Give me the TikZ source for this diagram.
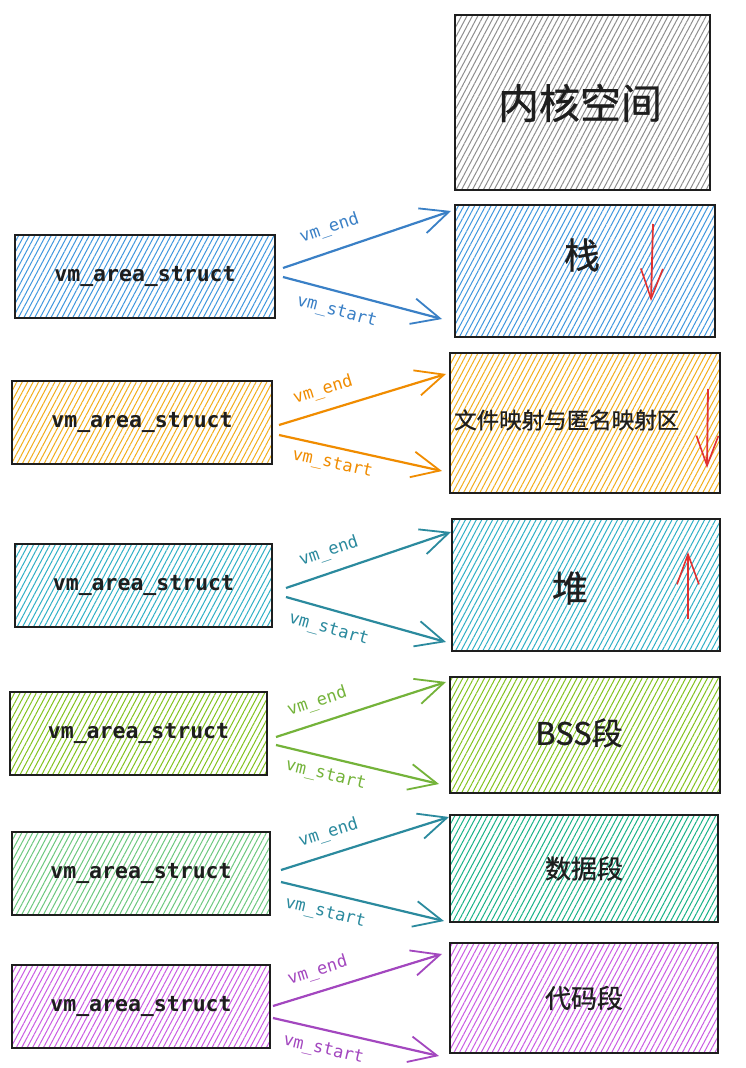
\documentclass[tikz,border=0pt]{standalone}
\usepackage{fontspec}
\setmonofont{DejaVu Sans Mono}
\newfontfamily\cjk[FakeBold=0.8]{Noto Sans CJK SC}
\usetikzlibrary{patterns.meta,arrows.meta,calc}

\definecolor{ink}{HTML}{1E1E1E}
\definecolor{blueLine}{HTML}{3A80C6}
\definecolor{blueHatch}{HTML}{3F97DE}
\definecolor{orangeLine}{HTML}{F08C00}
\definecolor{orangeHatch}{HTML}{F2AE1C}
\definecolor{tealLine}{HTML}{2B8A9E}
\definecolor{tealHatch}{HTML}{2FB0C6}
\definecolor{greenLine}{HTML}{74B33A}
\definecolor{greenHatch}{HTML}{82C31E}
\definecolor{mintHatch}{HTML}{6CC87E}
\definecolor{seaHatch}{HTML}{18B287}
\definecolor{purpleLine}{HTML}{A347BF}
\definecolor{purpleHatch}{HTML}{CB5BE4}
\definecolor{greyHatch}{HTML}{8E8E8E}
\definecolor{redArrow}{HTML}{E03131}

\begin{document}
\begin{tikzpicture}[x=1pt,y=-1pt,
  seg/.style={draw=ink, line width=2pt, inner sep=0pt,
    pattern={Lines[angle=62,distance=4.8pt,line width=1pt]}},
  vma/.style={seg, minimum height=83pt, text=ink,
    font=\ttfamily\bfseries\fontsize{21.5}{24}\selectfont},
  area/.style={seg},
  cjktext/.style={text=ink, inner sep=0pt},
  link/.style={draw=#1, line width=2.2pt,
    -{Straight Barb[length=28pt,width=26pt,line width=1.8pt]}},
  lbl/.style={sloped, text=#1, inner sep=0pt,
    font=\ttfamily\fontsize{17}{19}\selectfont},
  updown/.style={draw=redArrow, line width=1.8pt,
    -{Straight Barb[length=30pt,width=22pt,line width=1.6pt]}}
]
\useasboundingbox (0,0) rectangle (745,1068);
\fill[white] (0,0) rectangle (745,1068);

% ---- memory layout column ----
\node[area, pattern color=greyHatch, minimum width=255pt, minimum height=175pt] (kern) at (582.5,102.5) {};
\node[cjktext, font=\cjk\fontsize{41}{45}\selectfont] (tkern) at (580,103) {内核空间};

\node[area, pattern color=blueHatch, minimum width=260pt, minimum height=132pt] (k1) at (585,271) {};
\node[cjktext, font=\cjk\fontsize{36}{40}\selectfont] (t1) at ($(k1)+(-3,-16)$) {栈};

\node[area, pattern color=orangeHatch, minimum width=270pt, minimum height=140pt] (k2) at (585,423) {};
\node[cjktext, anchor=west, font=\cjk\fontsize{22.5}{26}\selectfont] (t2) at ($(k2.west)+(5,-3)$) {文件映射与匿名映射区};

\node[area, pattern color=tealHatch, minimum width=268pt, minimum height=132pt] (k3) at (586,585) {};
\node[cjktext, font=\cjk\fontsize{36}{40}\selectfont] (t3) at ($(k3)+(-16,3)$) {堆};

\node[area, pattern color=greenHatch, minimum width=270pt, minimum height=116pt] (k4) at (585,735) {};
\node[cjktext, font=\cjk\fontsize{31}{35}\selectfont] (t4) at ($(k4)+(-6,-2)$) {BSS段};

\node[area, pattern color=seaHatch, minimum width=268pt, minimum height=107pt] (k5) at (584,868.5) {};
\node[cjktext, font=\cjk\fontsize{26}{30}\selectfont] (t5) at (k5) {数据段};

\node[area, pattern color=purpleHatch, minimum width=268pt, minimum height=110pt] (k6) at (584,998) {};
\node[cjktext, font=\cjk\fontsize{26}{30}\selectfont] (t6) at (k6) {代码段};

% growth directions
\draw[updown] ($(k1.north east)+(-63,20)$) -- ($(k1.north east)+(-65,97)$);
\draw[updown] ($(k2.north east)+(-13,37)$) -- ($(k2.north east)+(-14,116)$);
\draw[updown] ($(k3.north east)+(-33,101)$) -- ($(k3.north east)+(-33,34)$);

% ---- vm_area_struct column ----
\node[vma, pattern color=blueHatch,   minimum width=260pt] (v1) at (145,276)    {vm\_area\_struct};
\node[vma, pattern color=orangeHatch, minimum width=260pt] (v2) at (142,422.5)  {vm\_area\_struct};
\node[vma, pattern color=tealHatch,   minimum width=257pt] (v3) at (143.5,585)  {vm\_area\_struct};
\node[vma, pattern color=greenHatch,  minimum width=257pt] (v4) at (138.5,733.5){vm\_area\_struct};
\node[vma, pattern color=mintHatch,   minimum width=258pt] (v5) at (141,873.5)  {vm\_area\_struct};
\node[vma, pattern color=purpleHatch, minimum width=258pt] (v6) at (141,1006.5) {vm\_area\_struct};

% ---- vm_end / vm_start links ----
\draw[link=blueLine] ($(v1.east)+(7,-8)$) -- node[lbl=blueLine, pos=.32, above=13pt] {vm\_end} ($(k1.north west)+(-3,7)$);
\draw[link=blueLine] ($(v1.east)+(7,1)$) -- node[lbl=blueLine, pos=.37, below=11pt] {vm\_start} ($(k1.south west)+(-12,-19)$);

\draw[link=orangeLine] ($(v2.east)+(6,2.5)$) -- node[lbl=orangeLine, pos=.3, above=11pt] {vm\_end} ($(k2.north west)+(-3,22)$);
\draw[link=orangeLine] ($(v2.east)+(6,12.5)$) -- node[lbl=orangeLine, pos=.35, below=8pt] {vm\_start} ($(k2.south west)+(-7,-23)$);

\draw[link=tealLine] ($(v3.east)+(13,3)$) -- node[lbl=tealLine, pos=.3, above=11pt] {vm\_end} ($(k3.north west)+(0,14)$);
\draw[link=tealLine] ($(v3.east)+(13,12)$) -- node[lbl=tealLine, pos=.3, below=11pt] {vm\_start} ($(k3.south west)+(-5,-10)$);

\draw[link=greenLine] ($(v4.east)+(8,3.5)$) -- node[lbl=greenLine, pos=.28, above=11pt] {vm\_end} ($(k4.north west)+(-3,6)$);
\draw[link=greenLine] ($(v4.east)+(8,11.5)$) -- node[lbl=greenLine, pos=.33, below=9pt] {vm\_start} ($(k4.south west)+(-10,-10)$);

\draw[link=tealLine] ($(v5.east)+(10,-3.5)$) -- node[lbl=tealLine, pos=.32, above=11pt] {vm\_end} ($(k5.north west)+(0,3)$);
\draw[link=tealLine] ($(v5.east)+(10,8.5)$) -- node[lbl=tealLine, pos=.3, below=11pt] {vm\_start} ($(k5.south west)+(-5,-2)$);

\draw[link=purpleLine] ($(v6.east)+(2,-0.5)$) -- node[lbl=purpleLine, pos=.3, above=11pt] {vm\_end} ($(k6.north west)+(-7,12)$);
\draw[link=purpleLine] ($(v6.east)+(2,11.5)$) -- node[lbl=purpleLine, pos=.33, below=11pt] {vm\_start} ($(k6.south west)+(-10,2)$);
\end{tikzpicture}
\end{document}
